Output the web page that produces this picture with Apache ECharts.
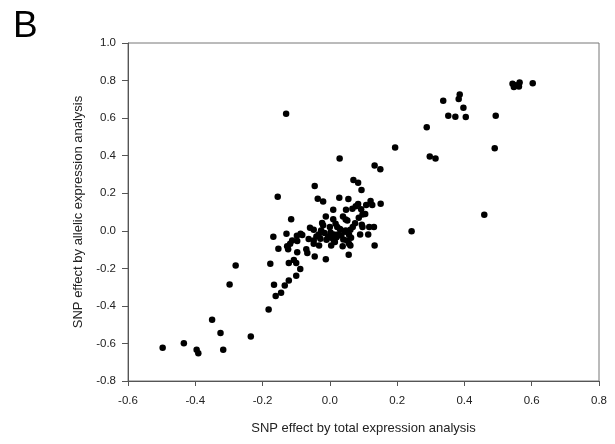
<!DOCTYPE html>
<html>
<head>
<meta charset="utf-8">
<script src="https://cdn.jsdelivr.net/npm/echarts@6/dist/echarts.min.js"></script>
<style>
  html, body { margin: 0; padding: 0; background: #fff; }
  #chart { width: 615px; height: 444px; }
</style>
</head>
<body>
<div id="chart"></div>
<script>
// SNP effect: total expression (x) vs allelic expression (y)
const totalEffect = [
  -0.130, 0.337, 0.386, 0.383, 0.397, 0.352, 0.373, 0.404, 0.493,
  0.543, 0.547, 0.564, 0.562, 0.553, 0.603,
  0.288, 0.194, 0.490, 0.297, 0.314, 0.029, 0.133, 0.150,
  -0.045, 0.070, 0.084, 0.094, -0.155, -0.036, -0.020, 0.028, 0.055,
  0.151, 0.121, 0.126, 0.108, 0.084, 0.077, 0.067, 0.048, 0.010,
  0.093, 0.097, 0.086, 0.459, -0.115, -0.012, 0.039, 0.047, 0.052,
  0.010, -0.023, 0.017, 0.022, 0.000, -0.059, -0.048, -0.026, 0.032,
  0.047, 0.061, 0.068, 0.097, 0.117, 0.131, 0.095, 0.243,
  -0.129, -0.168, -0.098, -0.087, -0.082, -0.033, -0.016, 0.002, 0.012,
  0.024, 0.034, 0.057, 0.090, 0.114, -0.063, -0.048, -0.028, -0.010,
  0.004, 0.012, 0.040, 0.063, -0.112, -0.118, -0.097, -0.048, -0.032,
  0.004, 0.038, 0.057, 0.061, 0.051, 0.133, -0.153, -0.124, -0.127,
  -0.070, -0.097, -0.067, -0.045, -0.012, 0.056, -0.177, -0.122,
  -0.107, -0.100, -0.088, -0.280, -0.100, -0.122, -0.166, -0.134,
  -0.298, -0.161, -0.145, -0.182, -0.350, -0.325, -0.235, -0.497,
  -0.434, -0.396, -0.391, -0.317,
  -0.005, 0.020, -0.040, 0.030, 0.045, -0.020, 0.015, 0.075, 0.105
];
const allelicEffect = [
  0.623, 0.693, 0.726, 0.702, 0.655, 0.613, 0.607, 0.606, 0.613,
  0.783, 0.766, 0.790, 0.769, 0.775, 0.785,
  0.551, 0.444, 0.439, 0.396, 0.385, 0.385, 0.348, 0.327,
  0.238, 0.270, 0.256, 0.217, 0.181, 0.171, 0.156, 0.176, 0.169,
  0.144, 0.158, 0.137, 0.137, 0.142, 0.131, 0.117, 0.112, 0.112,
  0.114, 0.087, 0.069, 0.085, 0.062, 0.076, 0.076, 0.060, 0.055,
  0.062, 0.041, 0.037, 0.020, 0.020, 0.016, 0.005, 0.002, 0.005,
  0.002, 0.005, 0.020, 0.020, 0.020, 0.020, 0.032, -0.002,
  -0.016, -0.032, -0.027, -0.016, -0.023, -0.020, -0.012, -0.009, -0.020,
  -0.020, -0.025, -0.021, -0.020, -0.020, -0.044, -0.052, -0.043, -0.048,
  -0.037, -0.052, -0.046, -0.037, -0.052, -0.069, -0.055, -0.069, -0.078,
  -0.078, -0.083, -0.069, -0.078, -0.052, -0.078, -0.096, -0.098, -0.083,
  -0.099, -0.115, -0.119, -0.137, -0.151, -0.128, -0.176, -0.171,
  -0.155, -0.171, -0.204, -0.185, -0.240, -0.265, -0.288, -0.291,
  -0.286, -0.348, -0.330, -0.419, -0.474, -0.544, -0.563, -0.623,
  -0.599, -0.634, -0.652, -0.634,
  -0.030, -0.035, -0.030, 0.010, -0.005, 0.030, -0.060, 0.040, 0.090
];
const xTicks = [-0.6, -0.4, -0.2, 0.0, 0.2, 0.4, 0.6, 0.8];
const yTicks = [-0.8, -0.6, -0.4, -0.2, 0.0, 0.2, 0.4, 0.6, 0.8, 1.0];

const points = totalEffect.map((x, i) => [x, allelicEffect[i]]);

const chart = echarts.init(document.getElementById('chart'), null, { renderer: 'canvas' });
const font = 'Liberation Sans, Arial, sans-serif';

chart.setOption({
  animation: false,
  textStyle: { fontFamily: font },
  graphic: [{
    type: 'text',
    left: 13,
    top: 8,
    style: { text: 'B', font: '37px ' + font, fill: '#000' }
  }],
  grid: {
    left: 128,
    right: 16,
    top: 43,
    bottom: 63,
    show: true,
    borderColor: '#777',
    borderWidth: 1
  },
  xAxis: {
    type: 'value',
    min: xTicks[0],
    max: xTicks[xTicks.length - 1],
    interval: 0.2,
    name: 'SNP effect by total expression analysis',
    nameLocation: 'middle',
    nameGap: 41,
    nameTextStyle: { fontSize: 13, color: '#222' },
    splitLine: { show: false },
    axisLine: { onZero: false, lineStyle: { color: '#555', width: 1 } },
    axisTick: { show: true, inside: false, length: 5, lineStyle: { color: '#555' } },
    axisLabel: {
      fontSize: 11.5, color: '#222', margin: 14,
      formatter: v => v.toFixed(1)
    }
  },
  yAxis: {
    type: 'value',
    min: yTicks[0],
    max: yTicks[yTicks.length - 1],
    interval: 0.2,
    name: 'SNP effect by allelic expression analysis',
    nameLocation: 'middle',
    nameGap: 43,
    nameTextStyle: { fontSize: 13, color: '#222' },
    splitLine: { show: false },
    axisLine: { onZero: false, lineStyle: { color: '#555', width: 1 } },
    axisTick: { show: true, inside: false, length: 6, lineStyle: { color: '#555' } },
    axisLabel: {
      fontSize: 11.5, color: '#222', margin: 12,
      formatter: v => v.toFixed(1)
    }
  },
  series: [{
    type: 'scatter',
    data: points,
    symbol: 'circle',
    symbolSize: 6.5,
    itemStyle: { color: '#000', opacity: 1 }
  }]
});
</script>
</body>
</html>
